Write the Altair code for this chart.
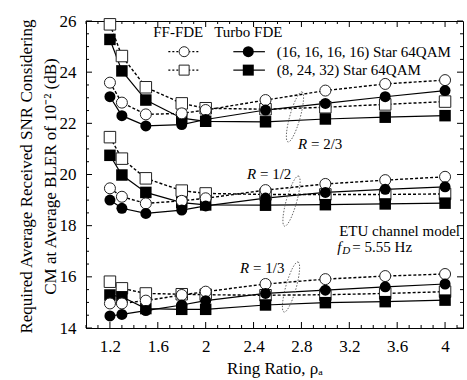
import altair as alt
import pandas as pd

# ---------------- data ----------------
ratios = [1.2, 1.3, 1.5, 1.8, 2.0, 2.5, 3.0, 3.5, 4.0]

# R = 2/3
ff_c_23 = [23.59, 22.81, 22.35, 22.39, 22.52, 22.91, 23.28, 23.54, 23.69]
tb_c_23 = [23.04, 22.30, 21.90, 21.95, 22.15, 22.52, 22.78, 23.04, 23.28]
ff_s_23 = [25.87, 24.63, 23.41, 22.78, 22.59, 22.55, 22.63, 22.74, 22.85]
tb_s_23 = [25.28, 24.05, 22.91, 22.20, 22.08, 22.06, 22.17, 22.24, 22.30]
# R = 1/2
ff_c_12 = [19.46, 19.13, 18.87, 18.97, 19.07, 19.39, 19.63, 19.78, 19.91]
tb_c_12 = [19.00, 18.68, 18.48, 18.61, 18.77, 19.08, 19.30, 19.42, 19.52]
ff_s_12 = [21.46, 20.62, 19.85, 19.37, 19.26, 19.22, 19.22, 19.22, 19.24]
tb_s_12 = [20.75, 19.98, 19.30, 18.90, 18.81, 18.80, 18.82, 18.85, 18.88]
# R = 1/3
ff_c_13 = [14.96, 14.96, 15.07, 15.29, 15.42, 15.72, 15.91, 16.03, 16.11]
tb_c_13 = [14.47, 14.53, 14.68, 14.90, 15.07, 15.35, 15.48, 15.61, 15.72]
ff_s_13 = [15.81, 15.55, 15.35, 15.32, 15.30, 15.28, 15.30, 15.35, 15.42]
tb_s_13 = [15.29, 15.22, 14.76, 14.73, 14.73, 14.90, 14.99, 15.03, 15.09]

series = [
    ("R23", "FF", "circle", ff_c_23), ("R23", "Turbo", "circle", tb_c_23),
    ("R23", "FF", "square", ff_s_23), ("R23", "Turbo", "square", tb_s_23),
    ("R12", "FF", "circle", ff_c_12), ("R12", "Turbo", "circle", tb_c_12),
    ("R12", "FF", "square", ff_s_12), ("R12", "Turbo", "square", tb_s_12),
    ("R13", "FF", "circle", ff_c_13), ("R13", "Turbo", "circle", tb_c_13),
    ("R13", "FF", "square", ff_s_13), ("R13", "Turbo", "square", tb_s_13),
]
rows = []
for rate, rx, shp, vals in series:
    for xv, yv in zip(ratios, vals):
        rows.append({"x": xv, "y": yv, "rate": rate, "rx": rx, "shape": shp,
                     "sid": f"{rate}-{rx}-{shp}"})
df = pd.DataFrame(rows)

x_major = [1.2, 1.6, 2.0, 2.4, 2.8, 3.2, 3.6, 4.0]
x_minor = [1.0, 1.1, 1.3, 1.4, 1.5, 1.7, 1.8, 1.9, 2.1, 2.2, 2.3, 2.5, 2.6, 2.7,
           2.9, 3.0, 3.1, 3.3, 3.4, 3.5, 3.7, 3.8, 3.9, 4.1]
y_major = [14, 16, 18, 20, 22, 24, 26]
y_minor = [14.5, 15, 15.5, 16.5, 17, 17.5, 18.5, 19, 19.5, 20.5, 21, 21.5,
           22.5, 23, 23.5, 24.5, 25, 25.5]

# ---------------- layout ----------------
W, H = 377, 307
FONT = "Liberation Serif"
XDOM = [1.0, 4.15]
YDOM = [14, 26]

x_axis = alt.Axis(values=x_major, format="~g", grid=False, ticks=False, tickSize=0,
                  domainColor="black", labelFont=FONT, labelFontSize=17,
                  labelColor="black", labelPadding=10, labelFlush=False,
                  title="Ring Ratio, ρₐ", titleFont=FONT, titleFontSize=17,
                  titleFontWeight="normal", titleColor="black", titleY=32,
                  titleBaseline="top")
y_axis = alt.Axis(values=y_major, grid=False, ticks=False, tickSize=0,
                  domainColor="black", labelFont=FONT, labelFontSize=17,
                  labelColor="black", labelPadding=10, labelFlush=False,
                  title=["Required Average Received SNR Considering",
                         "CM at Average BLER of 10⁻² (dB)"],
                  titleFont=FONT, titleFontSize=17, titleFontWeight="normal",
                  titleColor="black", titleLineHeight=24, titleAngle=270,
                  titleBaseline="bottom", titleAlign="center", titleX=-51, titleY=155)

X = alt.X("x:Q", scale=alt.Scale(domain=XDOM, nice=False, zero=False), axis=x_axis)
Y = alt.Y("y:Q", scale=alt.Scale(domain=YDOM, nice=False, zero=False), axis=y_axis)

base = alt.Chart(df)

ff_lines = base.transform_filter(alt.datum.rx == "FF").mark_line(
    color="black", strokeWidth=1.4, strokeDash=[3, 2]).encode(x=X, y=Y, detail="sid:N")
tb_lines = base.transform_filter(alt.datum.rx == "Turbo").mark_line(
    color="black", strokeWidth=1.2).encode(x=X, y=Y, detail="sid:N")


def markers(rx, shp, size):
    d = base.transform_filter((alt.datum.rx == rx) & (alt.datum.shape == shp))
    if rx == "FF":
        m = d.mark_point(shape=shp, filled=True, fill="white", stroke="#222",
                         strokeWidth=1, size=size, opacity=1)
    else:
        m = d.mark_point(shape=shp, filled=True, color="black", size=size, opacity=1)
    return m.encode(x=X, y=Y)


mk_layers = [markers("FF", "square", 132), markers("Turbo", "square", 132),
             markers("FF", "circle", 121), markers("Turbo", "circle", 121)]

# ---------------- inward ticks ----------------
def xticks(vals, ln):
    d = alt.Chart(pd.DataFrame({"x": vals}))
    b = d.mark_rule(color="black", strokeWidth=1).encode(
        x=X, y=alt.value(H), y2=alt.value(H - ln))
    t = d.mark_rule(color="black", strokeWidth=1).encode(
        x=X, y=alt.value(0), y2=alt.value(ln))
    return [b, t]


def yticks(vals, ln):
    d = alt.Chart(pd.DataFrame({"y": vals}))
    l = d.mark_rule(color="black", strokeWidth=1).encode(
        y=Y, x=alt.value(0), x2=alt.value(ln))
    r = d.mark_rule(color="black", strokeWidth=1).encode(
        y=Y, x=alt.value(W), x2=alt.value(W - ln))
    return [l, r]


tick_layers = xticks(x_major, 6) + xticks(x_minor, 3) + yticks(y_major, 6) + yticks(y_minor, 3)

# ---------------- annotations ----------------
ELLIPSE = "M0.27,-0.963 A0.2,1 15.6 1,1 -0.27,0.963 A0.2,1 15.6 1,1 0.27,-0.963 Z"
ell_df = pd.DataFrame({"x": [2.746, 2.717, 2.713], "y": [22.25, 18.96, 15.6]})
ellipses = alt.Chart(ell_df).mark_point(
    shape=ELLIPSE, size=2704, filled=False, stroke="#666", strokeWidth=1,
    strokeDash=[1.5, 1.5], opacity=1).encode(x=X, y=Y)

r_df = pd.DataFrame({"x": [2.771, 2.345, 2.287], "y": [21.19, 20.02, 16.34],
                     "t": ["= 2/3", "= 1/2", "= 1/3"]})
r_it = alt.Chart(r_df).mark_text(font=FONT, fontSize=15, fontStyle="italic",
                                 align="left", baseline="middle", color="black").encode(
    x=X, y=Y, text=alt.value("R"))
r_tx = alt.Chart(r_df).mark_text(font=FONT, fontSize=15, align="left",
                                 baseline="middle", color="black", dx=13).encode(
    x=X, y=Y, text="t:N")

etu = alt.Chart(pd.DataFrame({"x": [4.125], "y": [17.79]})).mark_text(
    font=FONT, fontSize=15, align="right", baseline="middle", color="black").encode(
    x=X, y=Y, text=alt.value("ETU channel model"))
fd_df = pd.DataFrame({"x": [3.1], "y": [17.17]})
fd_f = alt.Chart(fd_df).mark_text(font=FONT, fontSize=15, fontStyle="italic",
                                  align="left", baseline="middle", color="black").encode(
    x=X, y=Y, text=alt.value("f"))
fd_d = alt.Chart(fd_df).mark_text(font=FONT, fontSize=11, fontStyle="italic",
                                  align="left", baseline="middle", color="black",
                                  dx=5, dy=4).encode(x=X, y=Y, text=alt.value("D"))
fd_t = alt.Chart(fd_df).mark_text(font=FONT, fontSize=15, align="left",
                                  baseline="middle", color="black", dx=15).encode(
    x=X, y=Y, text=alt.value("= 5.55 Hz"))

# ---------------- legend ----------------
hdr_df = pd.DataFrame({"x": [1.771, 2.356], "y": [25.57, 25.57],
                       "t": ["FF-FDE", "Turbo FDE"]})
headers = alt.Chart(hdr_df).mark_text(font=FONT, fontSize=15, align="center",
                                      baseline="middle", color="black").encode(
    x=X, y=Y, text="t:N")
leg_y = [24.80, 24.08]
lg_ff = pd.DataFrame({"x": [1.688, 1.688], "x2": [1.952, 1.952], "y": leg_y})
lg_tb = pd.DataFrame({"x": [2.231, 2.231], "x2": [2.495, 2.495], "y": leg_y})
leg_ff_lines = alt.Chart(lg_ff).mark_rule(color="black", strokeWidth=1.2,
                                          strokeDash=[2, 2]).encode(x=X, x2="x2:Q", y=Y)
leg_tb_lines = alt.Chart(lg_tb).mark_rule(color="black", strokeWidth=1.2).encode(
    x=X, x2="x2:Q", y=Y)
lm_ff = pd.DataFrame({"x": [1.82, 1.82], "y": leg_y, "s": ["circle", "square"]})
lm_tb = pd.DataFrame({"x": [2.356, 2.356], "y": leg_y, "s": ["circle", "square"]})
leg_ff_c = alt.Chart(lm_ff).transform_filter(alt.datum.s == "circle").mark_point(
    shape="circle", filled=True, fill="white", stroke="#222", strokeWidth=1,
    size=100, opacity=1).encode(x=X, y=Y)
leg_ff_s = alt.Chart(lm_ff).transform_filter(alt.datum.s == "square").mark_point(
    shape="square", filled=True, fill="white", stroke="#222", strokeWidth=1,
    size=100, opacity=1).encode(x=X, y=Y)
leg_tb_c = alt.Chart(lm_tb).transform_filter(alt.datum.s == "circle").mark_point(
    shape="circle", filled=True, color="black", size=121, opacity=1).encode(x=X, y=Y)
leg_tb_s = alt.Chart(lm_tb).transform_filter(alt.datum.s == "square").mark_point(
    shape="square", filled=True, color="black", size=121, opacity=1).encode(x=X, y=Y)
lt_df = pd.DataFrame({"x": [2.593, 2.593], "y": leg_y,
                      "t": ["(16, 16, 16, 16) Star 64QAM", "(8, 24, 32) Star 64QAM"]})
leg_text = alt.Chart(lt_df).mark_text(font=FONT, fontSize=15, align="left",
                                      baseline="middle", color="black").encode(
    x=X, y=Y, text="t:N")

chart = alt.layer(
    ff_lines, tb_lines, *tick_layers, ellipses, *mk_layers,
    r_it, r_tx, etu, fd_f, fd_d, fd_t,
    headers, leg_ff_lines, leg_tb_lines, leg_ff_c, leg_ff_s, leg_tb_c, leg_tb_s, leg_text,
).properties(
    width=W, height=H,
    autosize=alt.AutoSizeParams(type="none"),
    padding={"left": 86, "top": 21, "right": 4, "bottom": 52},
    background="white",
).configure_view(stroke="black", strokeWidth=1).configure_axis(domainWidth=1)

chart.save("out.html", embed_options={"renderer": "svg", "actions": False})
